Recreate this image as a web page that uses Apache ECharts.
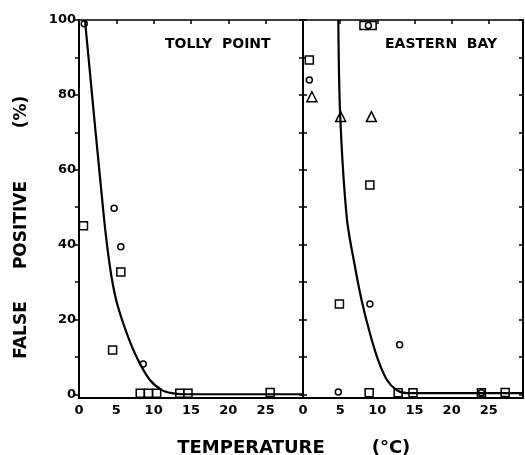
<!DOCTYPE html>
<html>
<head>
<meta charset="utf-8">
<script src="https://cdn.jsdelivr.net/npm/echarts@6/dist/echarts.min.js"></script>
<style>html,body{margin:0;padding:0;background:#fff}#c{width:525px;height:455px}</style>
</head>
<body>
<div id="c"></div>
<script>
// ---- data ----
const panelNames = ['TOLLY  POINT', 'EASTERN  BAY'];
const yTicks = [0, 10, 20, 30, 40, 50, 60, 70, 80, 90, 100];
const yLabels = [0, 20, 40, 60, 80, 100];
const xLabels = [0, 5, 10, 15, 20, 25];
const xTopTicks = [5, 10, 15, 20, 25];

// Tolly Point
const tollySquareT = [0.6, 5.6, 4.5, 8.2, 9.3, 10.4, 13.5, 14.6, 25.6];
const tollySquareP = [45, 32.7, 11.8, 0.3, 0.3, 0.3, 0.3, 0.3, 0.5];
const tollyCircleT = [0.7, 4.7, 5.6, 8.6];
const tollyCircleP = [99, 49.7, 39.4, 8.1];
const tollyCurveT = [0.8, 3.3, 4.15, 5.0, 6.4, 7.9, 9.5, 11.1, 12.4, 14, 30];
const tollyCurveP = [100, 48, 34, 25, 16.3, 9.2, 3.8, 1.1, 0.3, 0, 0];

// Eastern Bay
const eastSquareT = [0.85, 8.2, 9.3, 9.0, 4.9, 8.9, 12.8, 14.8, 24.0, 27.2];
const eastSquareP = [89.3, 98.5, 98.5, 55.9, 24.1, 0.4, 0.4, 0.4, 0.4, 0.5];
const eastCircleT = [0.85, 8.8, 9.0, 13.0, 4.75, 24.0];
const eastCircleP = [84, 98.5, 24.1, 13.2, 0.6, 0.4];
const eastTriangleT = [1.2, 5.07, 9.2];
const eastTriangleP = [79.5, 74.2, 74.2];
const eastCurveT = [4.75, 5.0, 5.9, 7.0, 7.9, 9.0, 10.1, 11.3, 12.6, 14, 29.6];
const eastCurveP = [100, 74.6, 47, 34, 25, 16.3, 9.2, 3.8, 1.1, 0.3, 0.3];

const zip = (a, b) => a.map((v, i) => [v, b[i]]);

const FONT = '"DejaVu Sans", sans-serif';
const lineStyle = { color: '#000', width: 2 };

function xBottom(gi, max) {
  return {
    type: 'value', gridIndex: gi, position: 'bottom', min: 0, max: max,
    axisLine: { show: true, onZero: false, lineStyle: lineStyle },
    axisTick: { show: false },
    splitLine: { show: false },
    axisLabel: { show: true, customValues: xLabels, color: '#000', fontFamily: FONT,
      fontWeight: 'bold', fontSize: 13, margin: 6 }
  };
}
function xTop(gi, max) {
  return {
    type: 'value', gridIndex: gi, position: 'top', min: 0, max: max,
    axisLine: { show: true, onZero: false, lineStyle: { color: '#000', width: 1.5 } },
    axisTick: { show: true, inside: true, length: 4, customValues: xTopTicks,
      lineStyle: { color: '#000', width: 1.5 } },
    axisLabel: { show: false },
    splitLine: { show: false }
  };
}
function yAx(gi, pos, inside, labels) {
  return {
    type: 'value', gridIndex: gi, position: pos, min: -1, max: 100,
    axisLine: { show: true, onZero: false, lineStyle: lineStyle },
    axisTick: { show: true, inside: inside, length: 4, customValues: yTicks,
      lineStyle: { color: '#000', width: 1.5 } },
    axisLabel: labels ? { show: true, customValues: yLabels, color: '#000', fontFamily: FONT,
      fontWeight: 'bold', fontSize: 13, margin: 3 } : { show: false },
    splitLine: { show: false }
  };
}

function scatter(name, xi, yi, data, symbol, size) {
  return {
    name: name, type: 'scatter', xAxisIndex: xi, yAxisIndex: yi, data: data,
    symbol: symbol, symbolSize: size, z: 2,
    itemStyle: { color: '#fff', borderColor: '#000', borderWidth: 1.5, opacity: 1 },
    emphasis: { disabled: true }
  };
}
function curve(name, xi, yi, data) {
  return {
    name: name, type: 'line', xAxisIndex: xi, yAxisIndex: yi, data: data,
    showSymbol: false, smooth: 0.3, z: 3,
    lineStyle: { color: '#000', width: 2.2 }, emphasis: { disabled: true }
  };
}

const chart = echarts.init(document.getElementById('c'), null, { renderer: 'canvas' });
chart.setOption({
  animation: false,
  backgroundColor: '#fff',
  grid: [
    { left: 79, top: 20, width: 224, height: 378 },
    { left: 303, top: 20, width: 220, height: 378 }
  ],
  xAxis: [xBottom(0, 30), xTop(0, 30), xBottom(1, 29.6), xTop(1, 29.6)],
  yAxis: [yAx(0, 'left', false, true), yAx(0, 'right', false, false),
          yAx(1, 'left', false, false), yAx(1, 'right', true, false)],
  series: [
    scatter('Tolly squares', 0, 0, zip(tollySquareT, tollySquareP), 'rect', 8),
    scatter('Tolly circles', 0, 0, zip(tollyCircleT, tollyCircleP), 'circle', 6),
    curve('Tolly fit', 0, 0, zip(tollyCurveT, tollyCurveP)),
    scatter('Eastern squares', 2, 2, zip(eastSquareT, eastSquareP), 'rect', 8),
    scatter('Eastern circles', 2, 2, zip(eastCircleT, eastCircleP), 'circle', 6),
    scatter('Eastern triangles', 2, 2, zip(eastTriangleT, eastTriangleP), 'triangle', 10),
    curve('Eastern fit', 2, 2, zip(eastCurveT, eastCurveP))
  ],
  graphic: [
    { type: 'text', left: 165, top: 37, style: { text: panelNames[0], fill: '#000',
      font: 'bold 14px ' + FONT } },
    { type: 'text', left: 385, top: 37, style: { text: panelNames[1], fill: '#000',
      font: 'bold 14px ' + FONT } },
    { type: 'text', x: 251, y: 448, style: { text: 'TEMPERATURE', fill: '#000',
      font: 'bold 18px ' + FONT, align: 'center', verticalAlign: 'middle' } },
    { type: 'text', x: 391, y: 448, style: { text: '(°C)', fill: '#000',
      font: 'bold 18px ' + FONT, align: 'center', verticalAlign: 'middle' } },
    { type: 'text', x: 22, y: 330, rotation: Math.PI / 2, style: { text: 'FALSE', fill: '#000',
      font: 'bold 17px ' + FONT, align: 'center', verticalAlign: 'middle' } },
    { type: 'text', x: 22, y: 225, rotation: Math.PI / 2, style: { text: 'POSITIVE', fill: '#000',
      font: 'bold 17px ' + FONT, align: 'center', verticalAlign: 'middle' } },
    { type: 'text', x: 22, y: 112, rotation: Math.PI / 2, style: { text: '(%)', fill: '#000',
      font: 'bold 17px ' + FONT, align: 'center', verticalAlign: 'middle' } }
  ]
});
</script>
</body>
</html>
